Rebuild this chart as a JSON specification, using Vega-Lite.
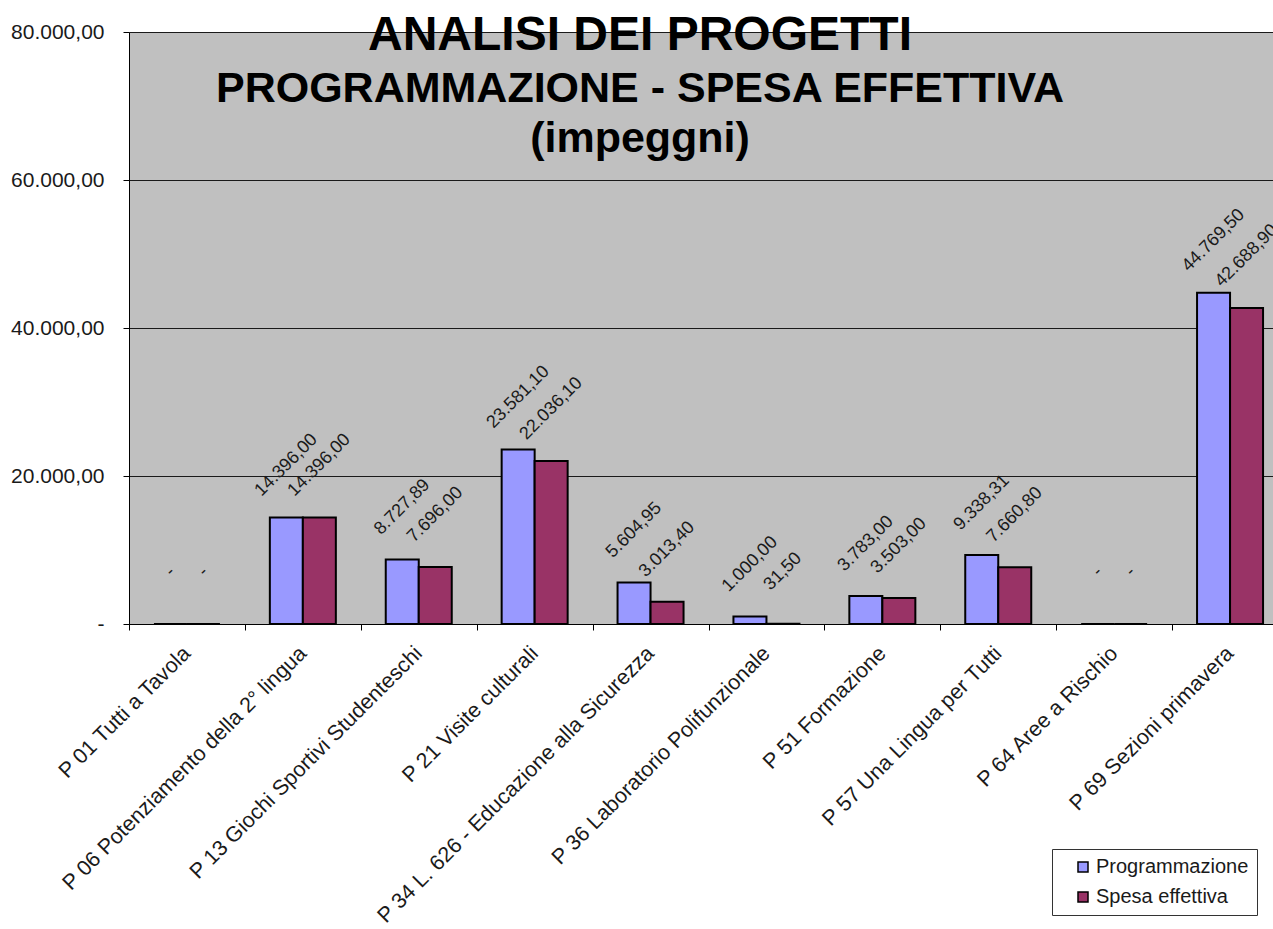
{
  "$schema": "https://vega.github.io/schema/vega-lite/v6.json",
  "autosize": {"type": "none"},
  "padding": {"left": 129, "top": 32, "right": 0, "bottom": 305},
  "width": 1144,
  "height": 592,
  "background": "white",
  "title": {
    "text": "ANALISI DEI PROGETTI",
    "subtitle": ["PROGRAMMAZIONE - SPESA EFFETTIVA", "(impeggni)"],
    "anchor": "middle",
    "frame": "group",
    "dx": -61,
    "offset": -140,
    "font": "Liberation Sans",
    "fontSize": 48,
    "fontWeight": "bold",
    "color": "black",
    "subtitleFont": "Liberation Sans",
    "subtitleFontSize": 43,
    "subtitleFontWeight": "bold",
    "subtitleColor": "black",
    "subtitleLineHeight": 50,
    "subtitlePadding": 8
  },
  "data": {
    "values": [
      {"progetto": "P 01 Tutti a Tavola", "serie": "Programmazione", "valore": 0},
      {"progetto": "P 01 Tutti a Tavola", "serie": "Spesa effettiva", "valore": 0},
      {"progetto": "P 06 Potenziamento della 2° lingua", "serie": "Programmazione", "valore": 14396.00},
      {"progetto": "P 06 Potenziamento della 2° lingua", "serie": "Spesa effettiva", "valore": 14396.00},
      {"progetto": "P 13 Giochi Sportivi Studenteschi", "serie": "Programmazione", "valore": 8727.89},
      {"progetto": "P 13 Giochi Sportivi Studenteschi", "serie": "Spesa effettiva", "valore": 7696.00},
      {"progetto": "P 21 Visite culturali", "serie": "Programmazione", "valore": 23581.10},
      {"progetto": "P 21 Visite culturali", "serie": "Spesa effettiva", "valore": 22036.10},
      {"progetto": "P 34 L. 626 - Educazione alla Sicurezza", "serie": "Programmazione", "valore": 5604.95},
      {"progetto": "P 34 L. 626 - Educazione alla Sicurezza", "serie": "Spesa effettiva", "valore": 3013.40},
      {"progetto": "P 36 Laboratorio Polifunzionale", "serie": "Programmazione", "valore": 1000.00},
      {"progetto": "P 36 Laboratorio Polifunzionale", "serie": "Spesa effettiva", "valore": 31.50},
      {"progetto": "P 51 Formazione", "serie": "Programmazione", "valore": 3783.00},
      {"progetto": "P 51 Formazione", "serie": "Spesa effettiva", "valore": 3503.00},
      {"progetto": "P 57 Una Lingua per Tutti", "serie": "Programmazione", "valore": 9338.31},
      {"progetto": "P 57 Una Lingua per Tutti", "serie": "Spesa effettiva", "valore": 7660.80},
      {"progetto": "P 64 Aree a Rischio", "serie": "Programmazione", "valore": 0},
      {"progetto": "P 64 Aree a Rischio", "serie": "Spesa effettiva", "valore": 0},
      {"progetto": "P 69 Sezioni primavera", "serie": "Programmazione", "valore": 44769.50},
      {"progetto": "P 69 Sezioni primavera", "serie": "Spesa effettiva", "valore": 42688.90}
    ]
  },
  "encoding": {
    "x": {
      "field": "progetto",
      "type": "nominal",
      "sort": null,
      "scale": {"range": [0, 1159], "paddingInner": 0, "paddingOuter": 0},
      "axis": {
        "title": null,
        "labelAngle": -45,
        "labelAlign": "right",
        "labelBaseline": "middle",
        "labelPadding": 20,
        "labelLimit": 0,
        "labelFont": "Liberation Sans",
        "labelFontSize": 21.5,
        "labelColor": "#1a1a1a",
        "tickBand": "extent",
        "tickSize": 6,
        "tickColor": "black",
        "domainColor": "black",
        "grid": false
      }
    },
    "xOffset": {
      "field": "serie",
      "type": "nominal",
      "sort": ["Programmazione", "Spesa effettiva"],
      "scale": {"paddingInner": 0, "paddingOuter": 0.756}
    },
    "y": {
      "field": "valore",
      "type": "quantitative",
      "scale": {"domain": [0, 80000], "nice": false},
      "axis": {
        "title": null,
        "values": [0, 20000, 40000, 60000, 80000],
        "format": ",.2f",
        "labelExpr": "datum.value == 0 ? '-\u00a0\u00a0' : datum.label",
        "labelFont": "Liberation Sans",
        "labelFontSize": 21,
        "labelColor": "#1a1a1a",
        "labelPadding": 19,
        "tickSize": 6,
        "tickColor": "black",
        "domainColor": "black",
        "grid": true,
        "gridColor": "#1a1a1a",
        "gridOpacity": 1
      }
    }
  },
  "layer": [
    {
      "mark": {"type": "bar", "stroke": "black", "strokeWidth": 2},
      "encoding": {
        "color": {
          "field": "serie",
          "type": "nominal",
          "scale": {"domain": ["Programmazione", "Spesa effettiva"], "range": ["#9999FF", "#993366"]},
          "legend": {
            "title": null,
            "orient": "none",
            "legendX": 923,
            "legendY": 817,
            "strokeColor": "#333",
            "fillColor": "white",
            "padding": 8,
            "symbolType": "square",
            "symbolSize": 100,
            "symbolStrokeColor": "black",
            "symbolStrokeWidth": 1.5,
            "symbolOffset": 13,
            "labelOffset": 3,
            "labelFont": "Liberation Sans",
            "labelFontSize": 20,
            "labelColor": "#1a1a1a",
            "rowPadding": 10
          }
        }
      }
    },
    {
      "mark": {"type": "text", "angle": 315, "align": "center", "baseline": "middle", "dx": 37, "dy": -37, "font": "Liberation Sans", "fontSize": 18, "color": "#1a1a1a"},
      "encoding": {
        "text": {
          "condition": {"test": "datum.valore == 0", "value": "-"},
          "field": "valore",
          "type": "quantitative",
          "format": ",.2f"
        }
      }
    }
  ],
  "config": {
    "locale": {
      "number": {"decimal": ",", "thousands": ".", "grouping": [3], "currency": ["€", ""]}
    },
    "view": {"fill": "#C0C0C0", "stroke": null}
  }
}
